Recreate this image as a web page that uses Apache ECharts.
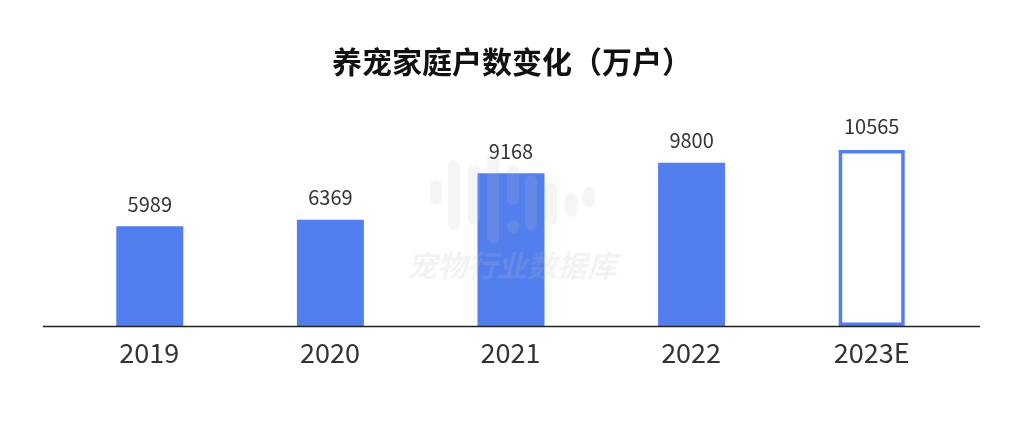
<!DOCTYPE html>
<html><head><meta charset="utf-8">
<script src="https://cdn.jsdelivr.net/npm/echarts@6/dist/echarts.min.js"></script>
<style>html,body{margin:0;padding:0;background:#fff}#c{width:1024px;height:431px}</style>
</head><body><div id="c"></div>
<script>
const titleText = '养宠家庭户数变化（万户）';
const categories = ['2019', '2020', '2021', '2022', '2023E'];
const actualValues = [5989, 6369, 9168, 9800, null];
const estimateValues = [null, null, null, null, 10565];
const watermarkText = '宠物行业数据库';

const BLUE = '#537EEE';
const FONT = '"Noto Sans CJK SC", "Noto Sans", sans-serif';

const chart = echarts.init(document.getElementById('c'), null, {renderer: 'canvas'});

// watermark icon (decorative)
const wmBars = [[430,180,205],[448,160,230],[468,165,225],[487,153,243],[507,165,205],[507,220,233],[525,175,230],[545,182,225],[565,193,217],[583,187,207]];
const wmGraphics = wmBars.map(b => ({
  type: 'rect', z: 100, silent: true,
  shape: {x: b[0], y: b[1], width: 12, height: b[2]-b[1], r: 6},
  style: {fill: 'rgba(190,190,190,0.16)'}
}));
wmGraphics.push({
  type: 'text', z: 100, silent: true, left: 'center', top: 251,
  style: {text: watermarkText, fill: 'rgba(190,190,190,0.18)', font: 'italic bold 30px ' + FONT}
});
wmGraphics.push({
  type: 'line', z: 5, silent: true,
  shape: {x1: 43, y1: 326.5, x2: 980, y2: 326.5},
  style: {stroke: '#222', lineWidth: 1.3}
});

chart.setOption({
  animation: false,
  backgroundColor: '#fff',
  title: {
    text: titleText, left: 'center', top: 42,
    textStyle: {fontFamily: FONT, fontSize: 30, fontWeight: 'bold', color: '#111'}
  },
  grid: {left: 59, right: 62, top: 126, bottom: 105},
  xAxis: {
    type: 'category', data: categories,
    axisLine: {show: false}, axisTick: {show: false},
    axisLabel: {fontFamily: FONT, fontSize: 27, color: '#333', margin: 13}
  },
  yAxis: {
    type: 'value', min: 0, max: 12000, show: false,
    splitLine: {show: false}
  },
  graphic: wmGraphics,
  series: [
    {
      type: 'bar', data: actualValues, barWidth: 67, barGap: '-100%',
      itemStyle: {color: BLUE},
      label: {show: true, position: 'top', distance: 12, fontFamily: FONT, fontSize: 20, color: '#333'}
    },
    {
      type: 'bar', data: estimateValues, barWidth: 66, barGap: '-100%',
      itemStyle: {color: '#fff', borderColor: BLUE, borderWidth: 3.5},
      label: {show: true, position: 'top', distance: 14, fontFamily: FONT, fontSize: 20, color: '#333'}
    }
  ]
});
</script>
</body></html>
